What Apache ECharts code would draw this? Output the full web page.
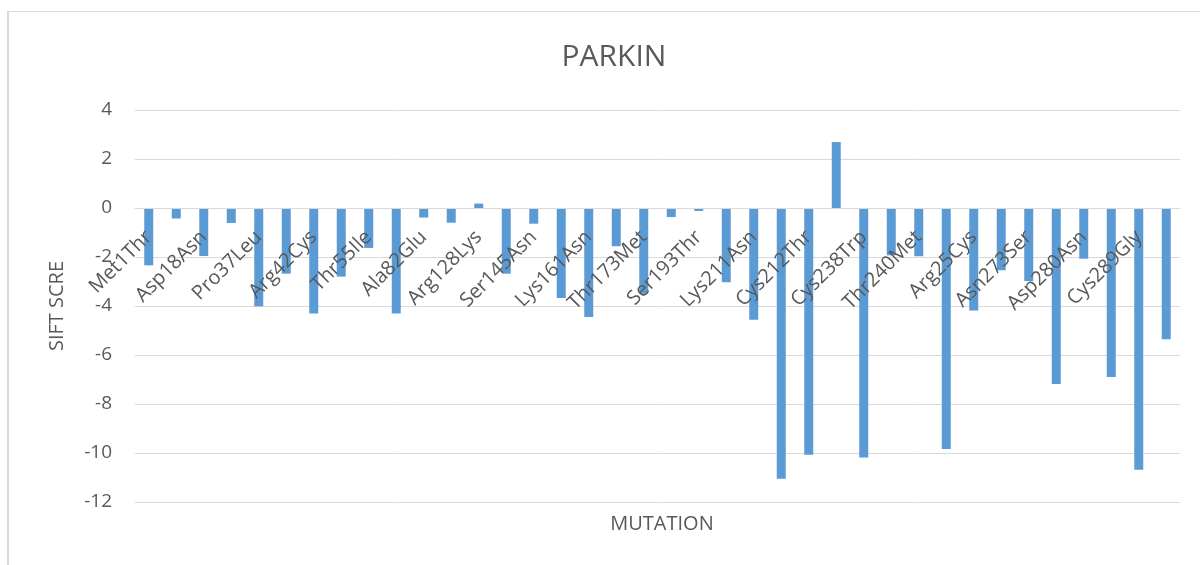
<!DOCTYPE html>
<html>
<head>
<meta charset="utf-8">
<script src="https://cdn.jsdelivr.net/npm/echarts@6/dist/echarts.min.js"></script>
<style>
  html, body { margin: 0; padding: 0; background: #fff; }
  #frame {
    position: absolute; left: 7px; top: 11px; width: 1300px; height: 700px;
    border-left: 2px solid #d9d9d9; border-top: 1px solid #d9d9d9;
  }
  #chart { position: absolute; left: 0; top: 0; width: 1200px; height: 565px; }
</style>
</head>
<body>
<div id="frame"></div>
<div id="chart"></div>
<script>
// mutations (only every other one gets a label on the axis)
const mutations = [
  'Met1Thr', 'Val15Met', 'Asp18Asn', 'Lys27Asn', 'Pro37Leu', 'Arg33Gln',
  'Arg42Cys', 'Ala46Pro', 'Thr55Ile', 'Val56Glu', 'Ala82Glu', 'Arg42Pro',
  'Arg128Lys', 'Gln34Arg', 'Ser145Asn', 'Lys129Asn', 'Lys161Asn', 'Cys166Tyr',
  'Thr173Met', 'Arg176Gln', 'Ser193Thr', 'Arg207Gln', 'Lys211Asn', 'Cys212Tyr',
  'Cys212Thr', 'Arg234Gln', 'Cys238Trp', 'Thr240Arg', 'Thr240Met', 'Arg256Cys',
  'Arg25Cys', 'Arg271Ser', 'Asn273Ser', 'Arg275Trp', 'Asp280Asn', 'Gly284Arg',
  'Cys289Gly', 'Cys441Arg'
];

const siftScores = [
  -2.34, -0.43, -1.96, -0.61, -4.01, -2.68, -4.31, -2.8, -1.63, -4.31,
  -0.39, -0.6, 0.18, -2.68, -0.64, -3.67, -4.45, -1.56, -3.5, -0.37,
  -0.12, -3.03, -4.56, -11.05, -10.07, 2.69, -10.18, -1.93, -1.97, -9.84,
  -4.18, -2.54, -2.98, -7.18, -2.07, -6.9, -10.68, -5.36
];

const yMin = -12, yMax = 4;
const gridTop = 110, gridBottom = 63, chartH = 565;

// distance from the bottom of the grid up to the zero line
const plotH = chartH - gridTop - gridBottom;
const zeroOffset = plotH * (0 - yMin) / (yMax - yMin);

const chart = echarts.init(document.getElementById('chart'));
const textColor = '#595959';
const font = '"Open Sans", sans-serif';

const option = {
  backgroundColor: 'transparent',
  animation: false,
  textStyle: { fontFamily: font, color: textColor },
  title: [
    {
      text: 'PARKIN',
      left: 609,
      textAlign: 'center',
      top: 37,
      textStyle: { fontFamily: font, fontSize: 30, fontWeight: 'normal', color: textColor }
    },
    {
      text: 'MUTATION',
      left: 657,
      textAlign: 'center',
      top: 509,
      textStyle: { fontFamily: font, fontSize: 20, fontWeight: 'normal', color: textColor }
    }
  ],
  // y axis title, drawn by hand because the axis name kept drifting left
  graphic: [{
    type: 'text',
    x: 57,
    y: gridTop + plotH / 2,
    rotation: Math.PI / 2,
    style: {
      text: 'SIFT SCRE',
      fill: textColor,
      fontSize: 20,
      fontFamily: font,
      align: 'center',
      verticalAlign: 'middle'
    }
  }],
  grid: { left: 135, right: 20, top: gridTop, bottom: gridBottom, outerBoundsMode: 'none', containLabel: false },
  xAxis: {
    type: 'category',
    data: mutations,
    offset: -zeroOffset,
    z: 5,
    axisLine: { onZero: false, lineStyle: { color: '#d9d9d9', width: 1 } },
    axisTick: { show: false },
    axisLabel: {
      interval: 1,
      rotate: 45,
      margin: 26,
      fontSize: 20,
      fontFamily: font,
      color: textColor
    }
  },
  yAxis: {
    type: 'value',
    min: yMin,
    max: yMax,
    interval: 2,
    axisLine: { show: false },
    axisTick: { show: false },
    axisLabel: { margin: 23, fontSize: 19, fontFamily: font, color: textColor },
    splitLine: { lineStyle: { color: '#d9d9d9', width: 1 } }
  },
  series: [{
    name: 'SIFT SCRE',
    type: 'bar',
    data: siftScores,
    barWidth: 9,
    z: 2,
    itemStyle: { color: '#5b9bd5' }
  }]
};

chart.setOption(option);
</script>
</body>
</html>
